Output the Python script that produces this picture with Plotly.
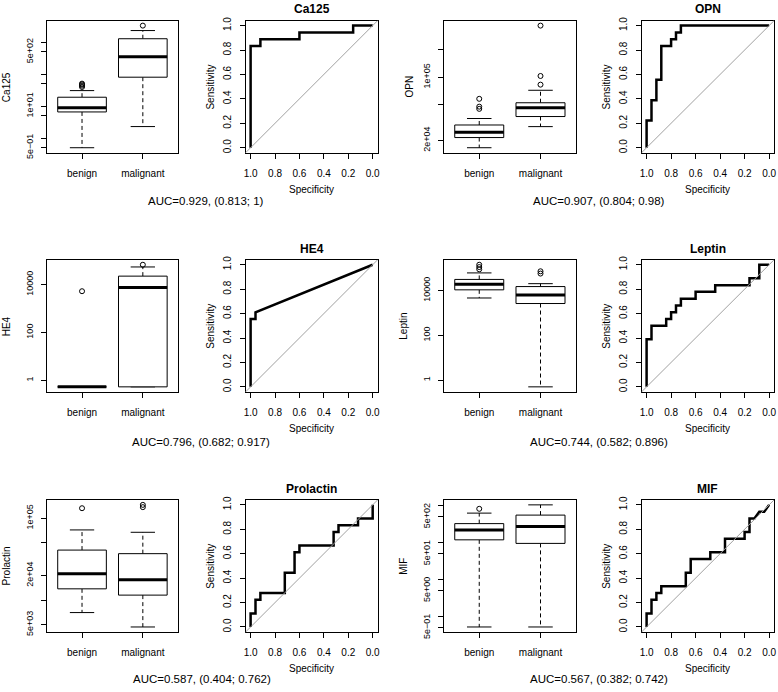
import math
import plotly.graph_objects as go

# ---------------- data ----------------
markers = ["Ca125", "OPN", "HE4", "Leptin", "Prolactin", "MIF"]
groups = ["benign", "malignant"]

# box statistics per group: [lower whisker, Q1, median, Q3, upper whisker]
ca125_benign = [0.5, 6.6, 9.0, 19.1, 30.8]
ca125_malignant = [2.3, 81, 352, 1298, 2344]
ca125_out_benign = [40, 44, 48, 51]
ca125_out_malignant = [3350]

opn_benign = [16600, 21500, 24600, 29600, 34900]
opn_malignant = [28400, 36700, 46000, 52100, 71600]
opn_out_benign = [44600, 47200, 57600]
opn_out_malignant = [82600, 103000, 371000]

he4_benign = [0.53, 0.53, 0.53, 0.53, 0.53]
he4_malignant = [0.53, 0.53, 7530, 22700, 55000]
he4_out_benign = [5320]
he4_out_malignant = [68000]

leptin_benign = [4630, 10700, 18900, 31200, 61000]
leptin_malignant = [0.5, 2620, 6250, 14960, 20200]
leptin_out_benign = [88200, 111000, 141000]
leptin_out_malignant = [57000, 72100]

prolactin_benign = [7030, 13700, 20960, 40700, 71700]
prolactin_malignant = [4690, 11480, 17740, 36800, 67100]
prolactin_out_benign = [132000]
prolactin_out_malignant = [136000, 145000]

mif_benign = [0.52, 120, 223, 330, 636]
mif_malignant = [0.52, 96, 274, 562, 1064]
mif_out_benign = [832]
mif_out_malignant = []

# ROC curves (specificity, sensitivity)
ca125_spec = [1, 1, 0.92, 0.92, 0.6, 0.6, 0.16, 0.16, 0]
ca125_sens = [0, 0.833, 0.833, 0.889, 0.889, 0.944, 0.944, 1, 1]

opn_spec = [1, 1, 0.96, 0.96, 0.92, 0.92, 0.88, 0.88, 0.8, 0.8, 0.76, 0.76, 0.72, 0.72, 0]
opn_sens = [0, 0.222, 0.222, 0.389, 0.389, 0.556, 0.556, 0.833, 0.833, 0.889, 0.889, 0.944, 0.944, 1, 1]

he4_spec = [1, 1, 0.96, 0.96, 0]
he4_sens = [0, 0.556, 0.556, 0.611, 1]

leptin_spec = [1, 1, 0.96, 0.96, 0.84, 0.84, 0.8, 0.8, 0.76, 0.76, 0.72, 0.72, 0.6, 0.6,
               0.44, 0.44, 0.16, 0.16, 0.08, 0.08, 0]
leptin_sens = [0, 0.389, 0.389, 0.5, 0.5, 0.556, 0.556, 0.611, 0.611, 0.667, 0.667, 0.722, 0.722,
               0.778, 0.778, 0.833, 0.833, 0.889, 0.889, 1, 1]

prolactin_spec = [1, 1, 0.96, 0.96, 0.92, 0.92, 0.72, 0.72, 0.64, 0.64, 0.6, 0.6, 0.32, 0.32,
                  0.28, 0.28, 0.12, 0.12, 0, 0]
prolactin_sens = [0, 0.111, 0.111, 0.222, 0.222, 0.278, 0.278, 0.444, 0.444, 0.611, 0.611, 0.667,
                  0.667, 0.778, 0.778, 0.833, 0.833, 0.889, 0.889, 1]

mif_spec = [1, 1, 0.96, 0.96, 0.92, 0.92, 0.88, 0.88, 0.68, 0.68, 0.64, 0.64, 0.48, 0.48,
            0.36, 0.36, 0.2, 0.2, 0.16, 0.16, 0.12, 0.08, 0.04, 0]
mif_sens = [0, 0.111, 0.111, 0.222, 0.222, 0.278, 0.278, 0.333, 0.333, 0.444, 0.444, 0.556,
            0.556, 0.611, 0.611, 0.722, 0.722, 0.778, 0.778, 0.889, 0.889, 0.944, 0.944, 1]

auc_values = [0.929, 0.907, 0.796, 0.744, 0.587, 0.567]
auc_ci_low = [0.813, 0.804, 0.682, 0.582, 0.404, 0.382]
auc_ci_high = [1, 0.98, 0.917, 0.896, 0.762, 0.742]

# log-axis ticks of each box plot
ca125_tickvals = [0.5, 1, 5, 10, 50, 100, 500, 1000]
ca125_ticktext = ["5e\u221201", "", "", "1e+01", "", "", "5e+02", ""]
opn_tickvals = [2e4, 5e4, 1e5, 2e5]
opn_ticktext = ["2e+04", "", "1e+05", ""]
he4_tickvals = [1, 100, 10000]
he4_ticktext = ["1", "100", "10000"]
leptin_tickvals = [1, 100, 10000]
leptin_ticktext = ["1", "100", "10000"]
prolactin_tickvals = [5e3, 1e4, 2e4, 5e4, 1e5]
prolactin_ticktext = ["5e+03", "", "2e+04", "", "1e+05"]
mif_tickvals = [0.5, 1, 5, 10, 50, 100, 500, 1000]
mif_ticktext = ["5e\u221201", "", "5e+00", "", "5e+01", "", "5e+02", ""]

roc_ticks = [1.0, 0.8, 0.6, 0.4, 0.2, 0.0]

box_stats = [
    (ca125_benign, ca125_malignant, ca125_out_benign, ca125_out_malignant),
    (opn_benign, opn_malignant, opn_out_benign, opn_out_malignant),
    (he4_benign, he4_malignant, he4_out_benign, he4_out_malignant),
    (leptin_benign, leptin_malignant, leptin_out_benign, leptin_out_malignant),
    (prolactin_benign, prolactin_malignant, prolactin_out_benign, prolactin_out_malignant),
    (mif_benign, mif_malignant, mif_out_benign, mif_out_malignant),
]
roc_curves = [(ca125_spec, ca125_sens), (opn_spec, opn_sens), (he4_spec, he4_sens),
              (leptin_spec, leptin_sens), (prolactin_spec, prolactin_sens), (mif_spec, mif_sens)]
y_ticks = [(ca125_tickvals, ca125_ticktext), (opn_tickvals, opn_ticktext),
           (he4_tickvals, he4_ticktext), (leptin_tickvals, leptin_ticktext),
           (prolactin_tickvals, prolactin_ticktext), (mif_tickvals, mif_ticktext)]

# ---------------- layout geometry (pixels) ----------------
W, H = 778, 692
BOX_X = [(45, 177), (444, 577)]
ROC_X = [(245, 377.5), (643, 776)]
ROWS_Y = [(17, 151), (260, 394), (504, 638)]
YTITLE_X = [4.5, 410, 4.5, 404, 4.5, 404]
AUC_POS = [(205, 200), (600, 200), (200, 445), (600, 445), (201, 686), (600, 686)]

FONT = "Liberation Sans, Arial, Helvetica, sans-serif"
BOX_HALF = 0.4
CAP_HALF = 0.2


def xdom(a, b):
    return [a / W, b / W]


def ydom(top, bottom):
    return [1 - bottom / H, 1 - top / H]


fig = go.Figure()
layout = {}
annotations = []

common_axis = dict(showline=True, mirror=True, linecolor="black", linewidth=1,
                   ticks="outside", ticklen=5, tickwidth=1, tickcolor="black",
                   showgrid=False, zeroline=False, fixedrange=True,
                   ticklabeloverflow="allow",
                   tickfont=dict(family=FONT, size=10, color="black"))

for i, name in enumerate(markers):
    row, col = divmod(i, 2)
    top, bottom = ROWS_Y[row]
    bx, rx = 2 * i + 1, 2 * i + 2
    xa_b, ya_b = f"x{bx}", f"y{bx}"
    xa_r, ya_r = f"x{rx}", f"y{rx}"

    ben, mal, out_b, out_m = box_stats[i]
    allv = ben + mal + out_b + out_m
    lo, hi = math.log10(min(allv)), math.log10(max(allv))
    pad = 0.04 * (hi - lo)

    # ---- box plot ----
    for g, (stats, outs) in enumerate([(ben, out_b), (mal, out_m)]):
        c = g + 1
        lw, q1, med, q3, uw = stats
        kw = dict(xaxis=xa_b, yaxis=ya_b, hoverinfo="skip", showlegend=False)
        fig.add_trace(go.Scatter(x=[c, c, None, c, c], y=[q3, uw, None, q1, lw], mode="lines",
                                 line=dict(color="black", width=1, dash="4px,3px"), **kw))
        fig.add_trace(go.Scatter(x=[c - CAP_HALF, c + CAP_HALF, None, c - CAP_HALF, c + CAP_HALF],
                                 y=[uw, uw, None, lw, lw], mode="lines",
                                 line=dict(color="black", width=1), **kw))
        fig.add_trace(go.Scatter(x=[c - BOX_HALF, c + BOX_HALF, c + BOX_HALF, c - BOX_HALF, c - BOX_HALF],
                                 y=[q1, q1, q3, q3, q1], mode="lines", fill="toself",
                                 fillcolor="white", line=dict(color="black", width=1), **kw))
        fig.add_trace(go.Scatter(x=[c - BOX_HALF, c + BOX_HALF], y=[med, med], mode="lines",
                                 line=dict(color="black", width=3), **kw))
        if outs:
            fig.add_trace(go.Scatter(x=[c] * len(outs), y=outs, mode="markers",
                                     marker=dict(symbol="circle-open", size=5, color="black",
                                                 line=dict(width=1, color="black")), **kw))

    tv, tt = y_ticks[i]
    layout[f"xaxis{bx}"] = dict(common_axis, domain=xdom(*BOX_X[col]), anchor=ya_b,
                                range=[0.42, 2.58], tickvals=[1, 2], ticktext=groups,
                                ticklabelstandoff=6)
    layout[f"yaxis{bx}"] = dict(common_axis, domain=ydom(top, bottom), anchor=xa_b,
                                type="log", range=[lo - pad, hi + pad], tickvals=tv, ticktext=tt,
                                tickangle=-90, ticklabelstandoff=4,
                                tickfont=dict(family=FONT, size=9, color="black"))

    # ---- ROC ----
    spec, sens = roc_curves[i]
    fig.add_trace(go.Scatter(x=spec, y=sens, mode="lines", line=dict(color="black", width=2.5),
                             xaxis=xa_r, yaxis=ya_r, hoverinfo="skip", showlegend=False))
    layout[f"xaxis{rx}"] = dict(common_axis, domain=xdom(*ROC_X[col]), anchor=ya_r,
                                range=[1.04, -0.04], tickvals=roc_ticks, tickformat=".1f",
                                ticklabelstandoff=6)
    layout[f"yaxis{rx}"] = dict(common_axis, domain=ydom(top, bottom), anchor=xa_r,
                                range=[-0.04, 1.04], tickvals=roc_ticks, tickformat=".1f",
                                tickangle=-90, ticklabelstandoff=5)

    # identity line across the plotting region
    fig.add_shape(type="line", xref=f"{xa_r} domain", yref=f"{ya_r} domain",
                  x0=0, y0=0, x1=1, y1=1, line=dict(color="#a0a0a0", width=1))

    # ---- texts ----
    rx0, rx1 = ROC_X[col]
    annotations.append(dict(text=f"<b>{name}</b>", x=(rx0 + rx1) / 2 / W, y=1 - (top - 11.5) / H,
                            xref="paper", yref="paper", showarrow=False,
                            font=dict(family=FONT, size=12, color="black"),
                            xanchor="center", yanchor="middle"))
    annotations.append(dict(text="Specificity", x=(rx0 + rx1) / 2 / W, y=1 - (bottom + 37) / H,
                            xref="paper", yref="paper", showarrow=False,
                            font=dict(family=FONT, size=10, color="black"),
                            xanchor="center", yanchor="middle"))
    annotations.append(dict(text="Sensitivity", x=(rx0 - 35) / W, y=1 - (top + bottom) / 2 / H,
                            xref="paper", yref="paper", showarrow=False, textangle=-90,
                            font=dict(family=FONT, size=10, color="black"),
                            xanchor="center", yanchor="middle"))
    annotations.append(dict(text=name, x=YTITLE_X[i] / W, y=1 - (top + bottom) / 2 / H,
                            xref="paper", yref="paper", showarrow=False, textangle=-90,
                            font=dict(family=FONT, size=10, color="black"),
                            xanchor="center", yanchor="middle"))
    ax_, ay_ = AUC_POS[i]
    annotations.append(dict(text=f"AUC={auc_values[i]:g}, ({auc_ci_low[i]:g}; {auc_ci_high[i]:g})",
                            x=ax_ / W, y=1 - ay_ / H, xref="paper", yref="paper", showarrow=False,
                            font=dict(family=FONT, size=11.5, color="black"),
                            xanchor="center", yanchor="middle"))

fig.update_layout(width=W, height=H, margin=dict(l=0, r=0, t=0, b=0),
                  paper_bgcolor="white", plot_bgcolor="white", showlegend=False,
                  hovermode=False, annotations=annotations, **layout)

fig.write_html("out.html", config={"displayModeBar": False},
               post_script="document.body.style.margin='0';document.body.style.overflow='hidden';")
